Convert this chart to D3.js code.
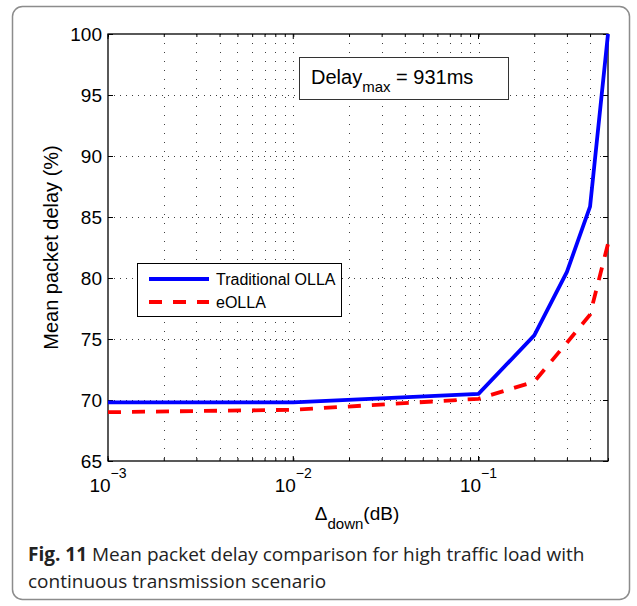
<!DOCTYPE html>
<html>
<head>
<meta charset="utf-8">
<script src="https://cdn.jsdelivr.net/npm/d3@7"></script>
<style>
  html, body { margin: 0; padding: 0; background: #fff; }
  svg { display: block; }
</style>
</head>
<body>
<svg id="chart" width="637" height="606"></svg>
<script>
// ---- data ----
const deltaDown = [0.001, 0.01, 0.1, 0.2, 0.3, 0.4, 0.5];
const traditionalOLLA = [69.8, 69.8, 70.5, 75.3, 80.5, 85.85, 100];
const eOLLA = [69.0, 69.2, 70.1, 71.5, 74.7, 77.0, 82.8];
const seriesNames = ["Traditional OLLA", "eOLLA"];
const xMajorTicks = [0.001, 0.01, 0.1];
const xTickExponents = ["\u22123", "\u22122", "\u22121"];
const yTicks = [65, 70, 75, 80, 85, 90, 95, 100];
const yDomain = [65, 100];
const xDomain = [0.001, 0.5];
const annotation = { main: "Delay", sub: "max", rest: " = 931ms" };
const xLabel = { main: "\u0394", sub: "down", rest: "(dB)" };
const yLabel = "Mean packet delay (%)";
const captionBold = "Fig. 11";
const captionLines = [" Mean packet delay comparison for high traffic load with", "continuous transmission scenario"];

// ---- layout ----
const svg = d3.select("#chart");
const L = 108, R = 608, T = 34, B = 461;
const chartFont = "'Liberation Sans', Arial, Helvetica, sans-serif";
const capFont = "'Open Sans', 'Noto Sans', sans-serif";

// outer frame
svg.append("rect")
  .attr("x", 12.5).attr("y", 6.5).attr("width", 617).attr("height", 593)
  .attr("rx", 10).attr("ry", 10)
  .attr("fill", "#fff").attr("stroke", "#8c8c8c").attr("stroke-width", 1.5);

const x = d3.scaleLog().domain(xDomain).range([L, R]);
const y = d3.scaleLinear().domain(yDomain).range([B, T]);

// minor tick positions for log axis
const xMinor = [];
for (let e = -3; e <= -1; e++) {
  for (let m = 1; m <= 9; m++) {
    const v = m * Math.pow(10, e);
    if (v >= xDomain[0] && v <= xDomain[1] + 1e-12) xMinor.push(v);
  }
}
const xGridVals = xMinor.filter(v => v > xDomain[0] && v < xDomain[1]);
const yGridVals = yTicks.filter(v => v > yDomain[0] && v < yDomain[1]);

const g = svg.append("g");

// grid
g.selectAll("line.vgrid").data(xGridVals).enter().append("line")
  .attr("x1", d => Math.round(x(d)) + 0.5).attr("x2", d => Math.round(x(d)) + 0.5)
  .attr("y1", T).attr("y2", B)
  .attr("stroke", "#000").attr("stroke-width", 1).attr("stroke-dasharray", "1,8")
  .attr("opacity", 0.75);
g.selectAll("line.hgrid").data(yGridVals).enter().append("line")
  .attr("y1", d => Math.round(y(d)) + 0.5).attr("y2", d => Math.round(y(d)) + 0.5)
  .attr("x1", L).attr("x2", R)
  .attr("stroke", "#000").attr("stroke-width", 1).attr("stroke-dasharray", "1,5")
  .attr("opacity", 0.75);

// axes with inward ticks (bottom/top minor+major, left/right major)
const fmtNone = () => "";
const axB = d3.axisBottom(x).tickValues(xMinor).tickFormat(fmtNone)
  .tickSizeInner(-3).tickSizeOuter(0);
const axT = d3.axisTop(x).tickValues(xMinor).tickFormat(fmtNone)
  .tickSizeInner(-3).tickSizeOuter(0);
const axL = d3.axisLeft(y).tickValues(yTicks).tickFormat(fmtNone)
  .tickSizeInner(-5).tickSizeOuter(0);
const axR = d3.axisRight(y).tickValues(yTicks).tickFormat(fmtNone)
  .tickSizeInner(-5).tickSizeOuter(0);
[[axB, `translate(0,${B})`], [axT, `translate(0,${T})`], [axL, `translate(${L},0)`], [axR, `translate(${R},0)`]]
  .forEach(([ax, tr]) => {
    const a = g.append("g").attr("transform", tr).call(ax);
    a.select(".domain").remove();
    a.selectAll("line").attr("stroke", "#000").attr("stroke-width", 1);
  });
// major x ticks slightly longer
g.selectAll("line.xmaj").data(xMajorTicks).enter().append("line")
  .attr("x1", d => x(d)).attr("x2", d => x(d)).attr("y1", B).attr("y2", B - 5)
  .attr("stroke", "#000");
g.selectAll("line.xmajT").data(xMajorTicks).enter().append("line")
  .attr("x1", d => x(d)).attr("x2", d => x(d)).attr("y1", T).attr("y2", T + 5)
  .attr("stroke", "#000");

// box
g.append("rect").attr("x", L).attr("y", T).attr("width", R - L).attr("height", B - T)
  .attr("fill", "none").attr("stroke", "#000").attr("stroke-width", 1.3);

// y tick labels
g.selectAll("text.ytl").data(yTicks).enter().append("text")
  .attr("x", L - 6).attr("y", d => y(d)).attr("dy", "0.36em")
  .attr("text-anchor", "end")
  .attr("font-family", chartFont).attr("font-size", 19).attr("fill", "#000")
  .text(d => d);

// x tick labels 10^n
const xtl = g.selectAll("text.xtl").data(xMajorTicks).enter().append("text")
  .attr("x", d => x(d)).attr("y", 492)
  .attr("text-anchor", "middle")
  .attr("font-family", chartFont).attr("font-size", 19).attr("fill", "#000");
xtl.append("tspan").text("10");
xtl.append("tspan").attr("dy", -14).attr("font-size", 14).text((d, i) => xTickExponents[i]);

// axis labels
const xl = svg.append("text").attr("x", 357).attr("y", 520)
  .attr("text-anchor", "middle")
  .attr("font-family", chartFont).attr("font-size", 19).attr("fill", "#000");
xl.append("tspan").text(xLabel.main);
xl.append("tspan").attr("dy", 9).attr("font-size", 15).text(xLabel.sub);
xl.append("tspan").attr("dy", -9).text(xLabel.rest);

svg.append("text")
  .attr("transform", `translate(58,${(T + B) / 2}) rotate(-90)`)
  .attr("text-anchor", "middle")
  .attr("font-family", chartFont).attr("font-size", 20).attr("fill", "#000")
  .text(yLabel);

// series lines
const clip = svg.append("clipPath").attr("id", "plotclip");
clip.append("rect").attr("x", L - 2).attr("y", T - 2).attr("width", R - L + 4).attr("height", B - T + 4);
const line = d3.line().x(d => x(d[0])).y(d => y(d[1]));
const blueData = deltaDown.map((d, i) => [d, traditionalOLLA[i]]);
const redData = deltaDown.map((d, i) => [d, eOLLA[i]]);
const lines = svg.append("g").attr("clip-path", "url(#plotclip)");
lines.append("path").datum(blueData).attr("d", line)
  .attr("fill", "none").attr("stroke", "#0000ff").attr("stroke-width", 3.8)
  .attr("stroke-linejoin", "miter");
lines.append("path").datum(redData).attr("d", line)
  .attr("fill", "none").attr("stroke", "#ff0000").attr("stroke-width", 3.8)
  .attr("stroke-dasharray", "13,11");

// annotation box
svg.append("rect").attr("x", 299.5).attr("y", 57.5).attr("width", 209).attr("height", 42)
  .attr("fill", "#fff").attr("stroke", "#333").attr("stroke-width", 1);
const an = svg.append("text").attr("x", 311).attr("y", 84)
  .attr("font-family", chartFont).attr("font-size", 20).attr("fill", "#000");
an.append("tspan").text(annotation.main);
an.append("tspan").attr("dy", 8).attr("font-size", 15).text(annotation.sub);
an.append("tspan").attr("dy", -8).text(annotation.rest);

// legend
const lg = svg.append("g");
lg.append("rect").attr("x", 137.5).attr("y", 263.5).attr("width", 204).attr("height", 53)
  .attr("fill", "#fff").attr("stroke", "#000").attr("stroke-width", 1);
const legendStyles = [
  { color: "#0000ff", dash: null },
  { color: "#ff0000", dash: "13,11" }
];
seriesNames.forEach((name, i) => {
  const yy = 279 + i * 23;
  lg.append("line").attr("x1", 149).attr("x2", 209).attr("y1", yy).attr("y2", yy)
    .attr("stroke", legendStyles[i].color).attr("stroke-width", 3.8)
    .attr("stroke-dasharray", legendStyles[i].dash);
  lg.append("text").attr("x", 216).attr("y", yy).attr("dy", "0.36em")
    .attr("font-family", chartFont).attr("font-size", 16).attr("fill", "#000")
    .text(name);
});

// caption
const cap1 = svg.append("text").attr("x", 28).attr("y", 561)
  .attr("font-family", capFont).attr("font-size", 19).attr("fill", "#222");
cap1.append("tspan").attr("font-weight", "bold").text(captionBold);
cap1.append("tspan").text(captionLines[0]);
svg.append("text").attr("x", 28).attr("y", 588)
  .attr("font-family", capFont).attr("font-size", 19).attr("fill", "#222")
  .text(captionLines[1]);
</script>
</body>
</html>
